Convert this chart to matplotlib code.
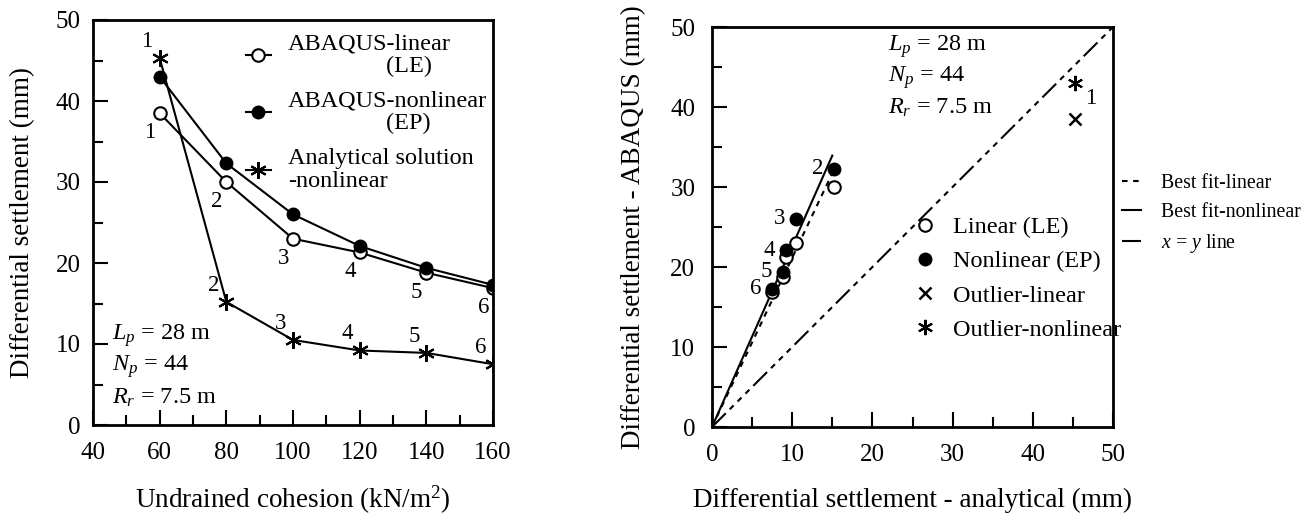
import numpy as np
import matplotlib
matplotlib.use("Agg")
import matplotlib.pyplot as plt
from matplotlib.ticker import MultipleLocator

plt.rcParams['font.family'] = ['Liberation Serif', 'DejaVu Serif']
plt.rcParams['mathtext.fontset'] = 'custom'
plt.rcParams['mathtext.rm'] = 'Liberation Serif'
plt.rcParams['mathtext.it'] = 'Liberation Serif:italic'
plt.rcParams['lines.scale_dashes'] = False

# data
cohesion = [60, 80, 100, 120, 140, 160]          # kN/m2
abaqus_le = [38.5, 30.0, 23.0, 21.3, 18.8, 16.9]  # mm
abaqus_ep = [43.0, 32.3, 26.0, 22.1, 19.4, 17.3]  # mm
analytical = [45.3, 15.2, 10.5, 9.2, 8.9, 7.5]    # mm
case_ids = ['1', '2', '3', '4', '5', '6']
params = ['$L_p$ = 28 m', '$N_p$ = 44', '$R_r$ = 7.5 m']

fs_tick = 18
fs_label = 19.5
fs_leg = 17.5
fs_num = 16.5

fig = plt.figure(figsize=(13.15, 5.16), dpi=100)
ax1 = fig.add_axes([93/1315, 91/516, 400/1315, 405/516])
ax2 = fig.add_axes([712/1315, 89/516, 401/1315, 400/516])

star = (6, 2, 0)

# ---------- left panel ----------
ax1.plot(cohesion, abaqus_le, '-', color='black', lw=1.5, marker='o', ms=9,
         mfc='white', mec='black', mew=1.5, label='ABAQUS-linear\n' + ' ' * 16 + '(LE)')
ax1.plot(cohesion, abaqus_ep, '-', color='black', lw=1.5, marker='o', ms=9,
         mfc='black', mec='black', label='ABAQUS-nonlinear\n' + ' ' * 16 + '(EP)')
ax1.plot(cohesion, analytical, '-', color='black', lw=1.5, marker=star, ms=12,
         mew=1.5, label='Analytical solution\n-nonlinear')

for xi, yi, c in zip(cohesion, abaqus_le, case_ids):
    ax1.annotate(c, (xi, yi), xytext=(-7, -14), textcoords='offset points',
                 ha='center', va='center', fontsize=fs_num)
for xi, yi, c in zip(cohesion, analytical, case_ids):
    ax1.annotate(c, (xi, yi), xytext=(-9, 12), textcoords='offset points',
                 ha='center', va='center', fontsize=fs_num)

for i, p in enumerate(params):
    ax1.text(0.047, 0.22 - i * 0.077, p, transform=ax1.transAxes,
             ha='left', va='center', fontsize=fs_leg)

ax1.set_xlim(40, 160)
ax1.set_ylim(0, 50)
ax1.xaxis.set_major_locator(MultipleLocator(20))
ax1.xaxis.set_minor_locator(MultipleLocator(10))
ax1.yaxis.set_major_locator(MultipleLocator(10))
ax1.yaxis.set_minor_locator(MultipleLocator(5))
ax1.set_xlabel('Undrained cohesion (kN/m$^2$)', fontsize=fs_label)
ax1.set_ylabel('Differential settlement (mm)', fontsize=fs_label)
ax1.xaxis.set_label_coords(0.5, -0.185)
ax1.xaxis.label.set_va('center')
ax1.yaxis.set_label_coords(-0.175, 0.5)
ax1.yaxis.label.set_va('center')

leg1 = ax1.legend(loc='upper left', bbox_to_anchor=(0.383, 0.967), frameon=False,
                  fontsize=fs_leg, handlelength=1.0, handletextpad=0.72,
                  labelspacing=0.58, borderpad=0, borderaxespad=0)
for t in leg1.get_texts():
    t.set_linespacing(1.08)

# ---------- right panel ----------
x_an = np.array(analytical[1:])
y_le = np.array(abaqus_le[1:])
y_ep = np.array(abaqus_ep[1:])
k_le = np.sum(x_an * y_le) / np.sum(x_an ** 2)
k_ep = np.sum(x_an * y_ep) / np.sum(x_an ** 2)
xfit = np.array([0, 15])

l_fit_le, = ax2.plot(xfit, k_le * xfit, color='black', lw=1.5, dashes=[4, 4],
                     label='Best fit-linear')
l_fit_ep, = ax2.plot(xfit, k_ep * xfit, color='black', lw=1.5,
                     label='Best fit-nonlinear')
l_xy, = ax2.plot([0, 50], [0, 50], color='black', lw=1.5,
                 dashes=[14, 4, 4, 4, 4, 4, 4, 4], label='$x$ = $y$ line')

p_le, = ax2.plot(x_an, y_le, 'o', ms=9, mfc='white', mec='black', mew=1.5,
                 ls='none', label='Linear (LE)')
p_ep, = ax2.plot(x_an, y_ep, 'o', ms=9, mfc='black', mec='black',
                 ls='none', label='Nonlinear (EP)')
p_ol, = ax2.plot(analytical[:1], abaqus_le[:1], 'x', ms=8, mew=1.8, color='black',
                 ls='none', label='Outlier-linear')
p_on, = ax2.plot(analytical[:1], abaqus_ep[:1], marker=star, ms=11, mew=1.5,
                 color='black', ls='none', label='Outlier-nonlinear')

for xi, yi, c in zip(x_an, y_ep, case_ids[1:]):
    ax2.annotate(c, (xi, yi), xytext=(-12, 0), textcoords='offset points',
                 ha='center', va='center', fontsize=fs_num)
ax2.annotate(case_ids[0], (analytical[0], abaqus_ep[0]), xytext=(11, -11.5),
             textcoords='offset points', ha='center', va='center', fontsize=fs_num)

for i, p in enumerate(params):
    ax2.text(0.438, 0.95 - i * 0.076, p, transform=ax2.transAxes,
             ha='left', va='center', fontsize=fs_leg)

ax2.set_xlim(0, 50)
ax2.set_ylim(0, 50)
for a in (ax2.xaxis, ax2.yaxis):
    a.set_major_locator(MultipleLocator(10))
    a.set_minor_locator(MultipleLocator(5))
ax2.set_xlabel('Differential settlement - analytical (mm)', fontsize=fs_label)
ax2.set_ylabel('Differential settlement - ABAQUS (mm)', fontsize=fs_label)
ax2.xaxis.set_label_coords(0.5, -0.183)
ax2.xaxis.label.set_va('center')
ax2.yaxis.set_label_coords(-0.195, 0.5)
ax2.yaxis.label.set_va('center')

leg2 = ax2.legend(handles=[p_le, p_ep, p_ol, p_on], loc='upper left',
                  bbox_to_anchor=(0.50, 0.527), frameon=False, fontsize=fs_leg,
                  handlelength=1.0, handletextpad=0.68, labelspacing=0.5,
                  borderpad=0, borderaxespad=0)
ax2.add_artist(leg2)
ax2.legend(handles=[l_fit_le, l_fit_ep, l_xy], loc='upper left',
           bbox_to_anchor=(1.022, 0.632), frameon=False, fontsize=14.3,
           handlelength=0.95, handletextpad=1.0, labelspacing=0.5,
           borderpad=0, borderaxespad=0)

# common styling
for ax in (ax1, ax2):
    for s in ax.spines.values():
        s.set_linewidth(2)
    ax.tick_params(which='both', direction='in', top=False, right=False,
                   width=1.5, labelsize=fs_tick)
    ax.tick_params(which='major', length=11)
    ax.tick_params(which='minor', length=7)
    ax.tick_params(axis='x', pad=12)
ax1.tick_params(axis='y', pad=9)
ax2.tick_params(axis='y', pad=12)

fig.savefig('out.png', dpi=100)
